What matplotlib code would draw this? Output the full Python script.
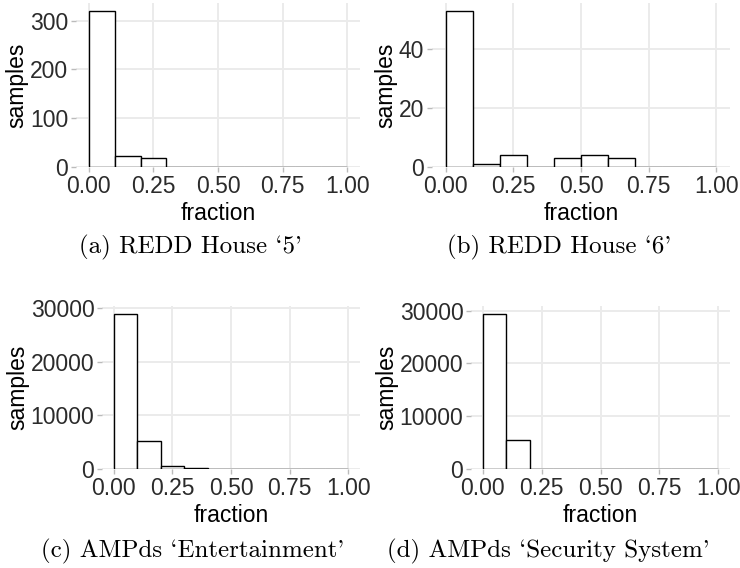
import numpy as np
import matplotlib
matplotlib.use('Agg')
import matplotlib.pyplot as plt

# histogram counts, 10 bins of width 0.1 over [0, 1]
bin_edges = np.linspace(0.0, 1.0, 11)
redd5 = [320, 22, 18, 1, 1, 0, 0, 0, 0, 0]
redd6 = [53, 1, 4, 0, 3, 4, 3, 0, 0, 0]
ampds_ent = [29000, 5200, 650, 100, 80, 50, 0, 0, 0, 0]
ampds_sec = [29400, 5500, 0, 0, 0, 0, 0, 0, 0, 0]

captions = ["(a) REDD House `5'", "(b) REDD House `6'",
            "(c) AMPds `Entertainment'", "(d) AMPds `Security System'"]
y_ticks = [[0, 100, 200, 300], [0, 20, 40],
           [0, 10000, 20000, 30000], [0, 10000, 20000, 30000]]
x_ticks = [0.0, 0.25, 0.5, 0.75, 1.0]
x_labels = ['0.00', '0.25', '0.50', '0.75', '1.00']

W, H = 740, 568
fig = plt.figure(figsize=(W / 100, H / 100), dpi=100)

# panel boxes in pixels: left, top, right, bottom
boxes = [(76, 3, 360, 167), (432, 3, 730, 167),
         (102, 306, 360, 469), (471, 306, 730, 469)]
cap_pos = [(190, 247), (559, 247), (193, 551), (548, 551)]

grid_col = '#EBEBEB'
fs = 16.5
for i, counts in enumerate([redd5, redd6, ampds_ent, ampds_sec]):
    l, t, r, b = boxes[i]
    ax = fig.add_axes([l / W, 1 - b / H, (r - l) / W, (b - t) / H])
    ax.bar(bin_edges[:-1], counts, width=0.1, align='edge',
           color='white', edgecolor='black', linewidth=1.0, zorder=3)
    ax.set_xlim(-0.05, 1.05)
    ax.set_ylim(0, max(counts) * 1.05)
    ax.set_xticks(x_ticks)
    ax.set_xticklabels(x_labels)
    ax.set_yticks(y_ticks[i])
    ax.grid(True, color=grid_col, linewidth=1.4, zorder=0)
    for s in ax.spines.values():
        s.set_visible(False)
    ax.tick_params(axis='both', colors='#2b2b2b', labelsize=fs,
                   length=3.5, width=1.0, pad=2)
    ax.tick_params(axis='both', color='#BBBBBB')
    for lab in ax.get_xticklabels() + ax.get_yticklabels():
        lab.set_fontfamily('Liberation Sans')
    ax.set_xlabel('fraction', fontsize=fs, family='Liberation Sans', labelpad=3.5)
    ax.set_ylabel('samples', fontsize=fs, family='Liberation Sans', labelpad=1)
    cx, cy = cap_pos[i]
    fig.text(cx / W, 1 - cy / H, captions[i], ha='center', va='center',
             fontsize=18, family=['cmr10', 'DejaVu Serif'])

fig.savefig('out.png', dpi=100)
